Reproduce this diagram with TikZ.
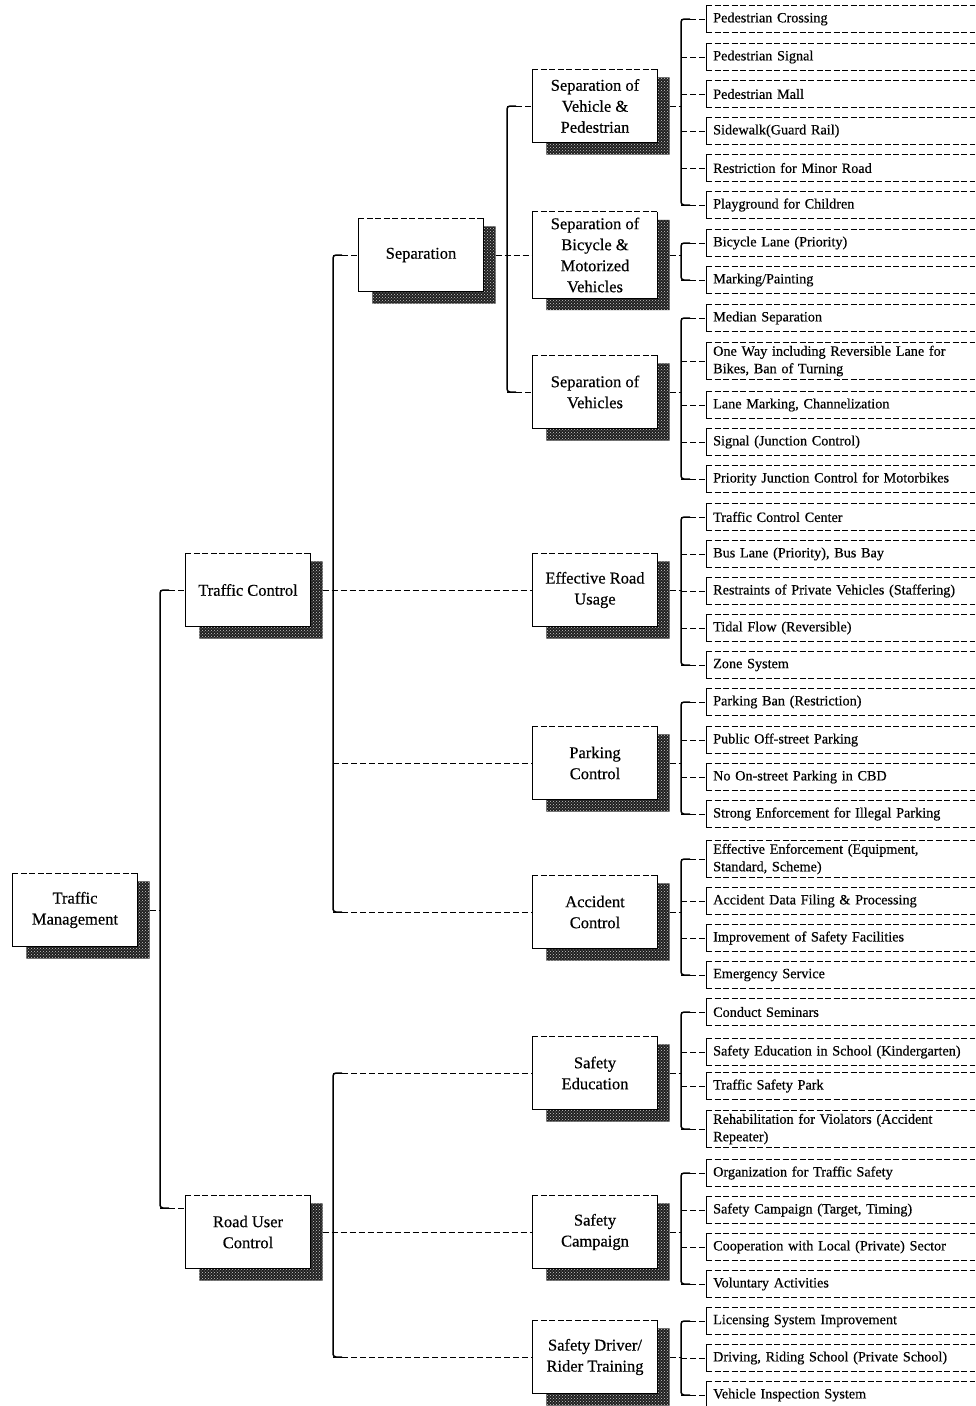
\documentclass[tikz,border=0pt]{standalone}
\usepackage{fontspec}
\setmainfont{Liberation Serif}
\newfontfamily\heavyserif{Liberation Serif}[FakeBold=0.4]
\usetikzlibrary{calc,patterns}

\tikzset{
  mainbox/.style={inner sep=0pt, minimum width=125pt, align=center,
    font=\heavyserif\fontsize{16.5}{21}\selectfont},
  leafbox/.style={anchor=west, inner xsep=7pt, inner ysep=3pt, minimum width=269pt,
    text width=255pt, minimum height=26pt, align=left,
    font=\heavyserif\fontsize{14.2}{17.5}\selectfont},
  boxline/.style={line width=1pt},
  topdash/.style={line width=0.8pt, dash pattern=on 6pt off 2.5pt},
  link/.style={line width=0.8pt, dash pattern=on 6pt off 3pt},
  trunk/.style={line width=1.5pt, rounded corners=3pt},
  shadowfill/.style={fill=black!88,
    postaction={pattern=crosshatch dots, pattern color=white!80!black}},
}

% box with a dark L-shaped drop shadow: [height]{name}{x}{y}{text}
\newcommand{\tmbox}[5][73]{%
  \node[mainbox, minimum height=#1pt] (#2) at (#3,#4) {#5};
  \path[shadowfill] ($(#2.north east)+(0,8)$) -- ($(#2.north east)+(12,8)$)
    -- ($(#2.south east)+(12,12)$) -- ($(#2.south west)+(14,12)$)
    -- ($(#2.south west)+(14,0)$) -- (#2.south east) -- cycle;
  \draw[boxline] (#2.north west) -- (#2.south west) -- (#2.south east) -- (#2.north east);
  \draw[topdash] (#2.north west) -- (#2.north east);
}

% open-ended item box on the right: {name}{y}{text}
\newcommand{\leaf}[3]{%
  \node[leafbox] (#1) at (706,#2) {#3};
  \draw[boxline] (#1.north west) -- (#1.south west);
  \draw[topdash] (#1.north west) -- (#1.north east) (#1.south west) -- (#1.south east);
}

% solid bracket trunk joining the first and last child: {x-coordinate}{first}{last}
\newcommand{\trunkline}[3]{%
  \draw[trunk] ($(#1 |- #2.west)+(9,0)$) -- (#1 |- #2.west)
    -- (#1 |- #3.west) -- ++(9,0);
}

\begin{document}
\begin{tikzpicture}[x=1pt, y=-1pt]
\useasboundingbox[fill=white] (0,0) rectangle (975,1406);

% trunk positions
\coordinate (t1) at (160,0);
\coordinate (t2) at (333,0);
\coordinate (t3) at (507,0);
\coordinate (lt) at (681,0);

% ---------- boxes ----------
\tmbox{root}{75}{910}{Traffic\\Management}
\tmbox{tc}{248}{590}{Traffic Control}
\tmbox{ruc}{248}{1232}{Road User\\Control}
\tmbox{sep}{421}{255}{Separation}
\tmbox{svp}{595}{106}{Separation of\\Vehicle \&\\Pedestrian}
\tmbox[86]{sbm}{595}{255}{Separation of\\Bicycle \&\\Motorized\\Vehicles}
\tmbox{sv}{595}{392}{Separation of\\Vehicles}
\tmbox{eru}{595}{590}{Effective Road\\Usage}
\tmbox{pk}{595}{763}{Parking\\Control}
\tmbox{acc}{595}{912}{Accident\\Control}
\tmbox{se}{595}{1073}{Safety\\Education}
\tmbox{sc}{595}{1232}{Safety\\Campaign}
\tmbox{sd}{595}{1357}{Safety Driver/\\Rider Training}

% ---------- items ----------
\leaf{p1}{19}{Pedestrian Crossing}
\leaf{p2}{57}{Pedestrian Signal}
\leaf{p3}{94}{Pedestrian Mall}
\leaf{p4}{131}{Sidewalk(Guard Rail)}
\leaf{p5}{168}{Restriction for Minor Road}
\leaf{p6}{205}{Playground for Children}

\leaf{b1}{243}{Bicycle Lane (Priority)}
\leaf{b2}{280}{Marking/Painting}

\leaf{v1}{318}{Median Separation}
\leaf{v2}{361}{One Way including Reversible Lane for\\Bikes, Ban of Turning}
\leaf{v3}{405}{Lane Marking, Channelization}
\leaf{v4}{442}{Signal (Junction Control)}
\leaf{v5}{479}{Priority Junction Control for Motorbikes}

\leaf{e1}{517}{Traffic Control Center}
\leaf{e2}{554}{Bus Lane (Priority), Bus Bay}
\leaf{e3}{591}{Restraints of Private Vehicles (Staffering)}
\leaf{e4}{628}{Tidal Flow (Reversible)}
\leaf{e5}{665}{Zone System}

\leaf{k1}{702}{Parking Ban (Restriction)}
\leaf{k2}{740}{Public Off-street Parking}
\leaf{k3}{777}{No On-street Parking in CBD}
\leaf{k4}{814}{Strong Enforcement for Illegal Parking}

\leaf{a1}{859}{Effective Enforcement (Equipment,\\Standard, Scheme)}
\leaf{a2}{901}{Accident Data Filing \& Processing}
\leaf{a3}{938}{Improvement of Safety Facilities}
\leaf{a4}{975}{Emergency Service}

\leaf{s1}{1012}{Conduct Seminars}
\leaf{s2}{1052}{Safety Education in School (Kindergarten)}
\leaf{s3}{1086}{Traffic Safety Park}
\leaf{s4}{1129}{Rehabilitation for Violators (Accident\\Repeater)}

\leaf{c1}{1173}{Organization for Traffic Safety}
\leaf{c2}{1210}{Safety Campaign (Target, Timing)}
\leaf{c3}{1247}{Cooperation with Local (Private) Sector}
\leaf{c4}{1284}{Voluntary Activities}

\leaf{d1}{1321}{Licensing System Improvement}
\leaf{d2}{1358}{Driving, Riding School (Private School)}
\leaf{d3}{1395}{Vehicle Inspection System}

% ---------- connectors: level 1 ----------
\coordinate (rucin) at ([yshift=24pt]ruc.west);
\draw[link] ($(root.east)+(12,0)$) -- (t1 |- root.east);
\draw[trunk] ($(t1 |- tc.west)+(9,0)$) -- (t1 |- tc.west) -- (t1 |- rucin) -- ++(9,0);
\draw[link] (t1 |- tc.west) -- (tc.west);
\draw[link] (t1 |- rucin) -- (rucin);

% ---------- connectors: level 2 ----------
\trunkline{t2}{sep}{acc}
\draw[link] ($(tc.east)+(12,0)$) -- (eru.west);
\foreach \n in {sep,pk,acc} \draw[link] (t2 |- \n.west) -- (\n.west);

\trunkline{t2}{se}{sd}
\draw[link] ($(ruc.east)+(12,0)$) -- (sc.west);
\foreach \n in {se,sd} \draw[link] (t2 |- \n.west) -- (\n.west);

% ---------- connectors: level 3 ----------
\trunkline{t3}{svp}{sv}
\draw[link] ($(sep.east)+(12,0)$) -- (sbm.west);
\foreach \n in {svp,sv} \draw[link] (t3 |- \n.west) -- (\n.west);

% ---------- connectors: items ----------
\foreach \pa/\first/\last/\items in {
    svp/p1/p6/{p1,p2,p3,p4,p5,p6},
    sbm/b1/b2/{b1,b2},
    sv/v1/v5/{v1,v2,v3,v4,v5},
    eru/e1/e5/{e1,e2,e3,e4,e5},
    pk/k1/k4/{k1,k2,k3,k4},
    acc/a1/a4/{a1,a2,a3,a4},
    se/s1/s4/{s1,s2,s3,s4},
    sc/c1/c4/{c1,c2,c3,c4},
    sd/d1/d3/{d1,d2,d3}} {
  \trunkline{lt}{\first}{\last}
  \draw[link] ($(\pa.east)+(12,0)$) -- (lt |- \pa.east);
  \foreach \n in \items \draw[link] (lt |- \n.west) -- (\n.west);
}
\end{tikzpicture}
\end{document}
